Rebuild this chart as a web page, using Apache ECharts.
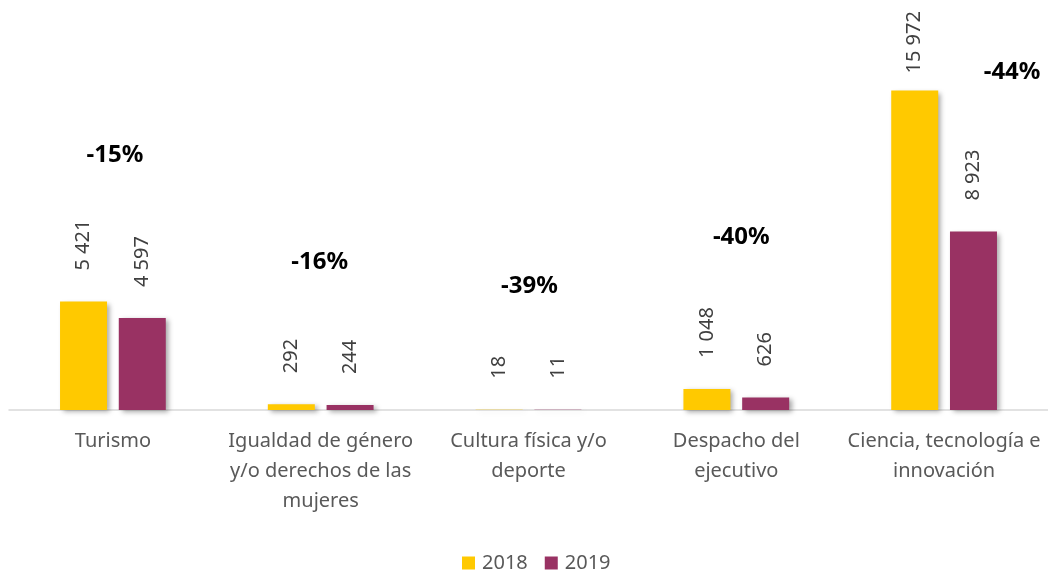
<!DOCTYPE html>
<html>
<head>
<meta charset="utf-8">
<script src="https://cdn.jsdelivr.net/npm/echarts@6/dist/echarts.min.js"></script>
<style>html,body{margin:0;padding:0;background:#fff;}#c{width:1048px;height:570px;}</style>
</head>
<body>
<div id="c"></div>
<script>
var categories = ['Turismo', 'Igualdad de género\ny/o derechos de las\nmujeres', 'Cultura física y/o\ndeporte', 'Despacho del\nejecutivo', 'Ciencia, tecnología e\ninnovación'];
var values2018 = [5421, 292, 18, 1048, 15972];
var values2019 = [4597, 244, 11, 626, 8923];
var seriesNames = ['2018', '2019'];

// layout of the manually placed change labels (pixel offsets from the top of the taller bar)
var pctOffsets = [[2, -146], [-1, -142], [1, -123], [5, -152], [68, -18]];
var labelDistances2018 = [31, 31, 31, 31, 17];

function fmt(v) {
  return String(v).replace(/\B(?=(\d{3})+(?!\d))/g, ' ');
}

var pctData = categories.map(function (c, i) {
  var ch = Math.round((values2019[i] - values2018[i]) / values2018[i] * 100);
  return [i, Math.max(values2018[i], values2019[i]), ch];
});

var FONT = '"Noto Sans", "Open Sans", sans-serif';
var shadow = {shadowBlur: 5, shadowOffsetX: 3, shadowOffsetY: 2, shadowColor: 'rgba(0,0,0,0.35)'};

var chart = echarts.init(document.getElementById('c'));
chart.setOption({
  animation: false,
  grid: {left: 9, width: 1040, top: 10, height: 400},
  legend: {
    data: seriesNames,
    left: 457,
    top: 548,
    itemWidth: 13,
    itemHeight: 13,
    itemGap: 17,
    icon: 'rect',
    textStyle: {fontFamily: FONT, fontSize: 20, color: '#595959', padding: [0, 0, 0, 2]}
  },
  xAxis: {
    type: 'category',
    data: categories,
    axisLine: {show: true, lineStyle: {color: '#d9d9d9', width: 1.5}},
    axisTick: {show: false},
    axisLabel: {interval: 0, margin: 16, fontFamily: FONT, fontSize: 20, lineHeight: 30, color: '#595959'}
  },
  yAxis: {type: 'value', min: 0, max: 20000, show: false, splitLine: {show: false}},
  series: [
    {
      name: seriesNames[0],
      type: 'bar',
      barWidth: 47,
      barGap: '25%',
      itemStyle: Object.assign({color: '#FFC900'}, shadow),
      data: values2018.map(function (v, i) {
        return {value: v, label: {distance: labelDistances2018[i]}};
      }),
      label: {
        show: true, position: 'top', rotate: 90, align: 'left', verticalAlign: 'middle',
        fontFamily: FONT, fontSize: 20, color: '#404040',
        formatter: function (p) { return fmt(p.value); }
      }
    },
    {
      name: seriesNames[1],
      type: 'bar',
      barWidth: 47,
      barGap: '25%',
      itemStyle: Object.assign({color: '#993263'}, shadow),
      data: values2019,
      label: {
        show: true, position: 'top', rotate: 90, align: 'left', verticalAlign: 'middle', distance: 31,
        fontFamily: FONT, fontSize: 20, color: '#404040',
        formatter: function (p) { return fmt(p.value); }
      }
    },
    {
      name: 'cambio',
      type: 'custom',
      data: pctData,
      silent: true,
      renderItem: function (params, api) {
        var i = api.value(0);
        var pt = api.coord([i, api.value(1)]);
        var off = pctOffsets[i];
        return {
          type: 'text',
          x: pt[0] + off[0],
          y: pt[1] + off[1],
          style: {
            text: api.value(2) + '%',
            fill: '#000',
            font: 'bold 24px ' + FONT,
            align: 'center',
            verticalAlign: 'middle'
          }
        };
      }
    }
  ]
});
</script>
</body>
</html>
